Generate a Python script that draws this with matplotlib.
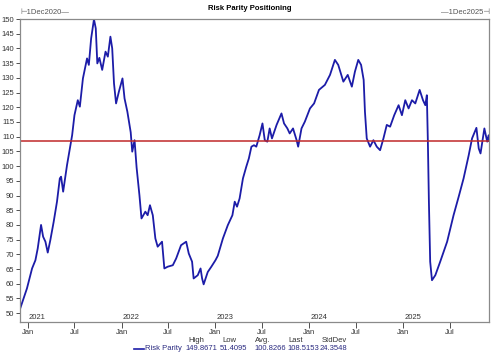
import pandas as pd
import matplotlib
matplotlib.use('Agg')
import matplotlib.pyplot as plt
import matplotlib.dates as mdates
import matplotlib.transforms as mtransforms

# data
dates = ['2020-12-01', '2020-12-28', '2021-01-17', '2021-01-30', '2021-02-08', '2021-02-21',
         '2021-03-01', '2021-03-10', '2021-03-19', '2021-03-29', '2021-04-11', '2021-04-24',
         '2021-05-05', '2021-05-10', '2021-05-18', '2021-06-02', '2021-06-13', '2021-06-22',
         '2021-07-01', '2021-07-14', '2021-07-22', '2021-08-03', '2021-08-19', '2021-08-26',
         '2021-09-04', '2021-09-15', '2021-09-22', '2021-09-28', '2021-10-06', '2021-10-17',
         '2021-10-30', '2021-11-08', '2021-11-18', '2021-11-25', '2021-12-02', '2021-12-10',
         '2021-12-21', '2022-01-04', '2022-01-12', '2022-01-23', '2022-02-05', '2022-02-11',
         '2022-02-20', '2022-02-28', '2022-03-11', '2022-03-19', '2022-04-03', '2022-04-12',
         '2022-04-21', '2022-05-02', '2022-05-12', '2022-05-21', '2022-06-07', '2022-06-16',
         '2022-06-29', '2022-07-19', '2022-08-01', '2022-08-20', '2022-09-09', '2022-09-19',
         '2022-10-02', '2022-10-08', '2022-10-24', '2022-11-04', '2022-11-10', '2022-11-16',
         '2022-12-02', '2022-12-16', '2023-01-01', '2023-01-10', '2023-01-30', '2023-02-18',
         '2023-03-08', '2023-03-17', '2023-03-26', '2023-04-05', '2023-04-18', '2023-05-01',
         '2023-05-11', '2023-05-21', '2023-05-31', '2023-06-09', '2023-06-22', '2023-07-03',
         '2023-07-12', '2023-07-22', '2023-07-31', '2023-08-09', '2023-08-27', '2023-09-15',
         '2023-09-25', '2023-10-08', '2023-10-17', '2023-10-30', '2023-11-13', '2023-11-19',
         '2023-12-02', '2023-12-15', '2024-01-04', '2024-01-20', '2024-02-08', '2024-03-02',
         '2024-03-22', '2024-04-10', '2024-04-23', '2024-05-13', '2024-05-30', '2024-06-15',
         '2024-06-27', '2024-07-10', '2024-07-21', '2024-07-31', '2024-08-05', '2024-08-12',
         '2024-08-25', '2024-09-07', '2024-09-20', '2024-10-03', '2024-10-16', '2024-10-29',
         '2024-11-11', '2024-11-27', '2024-12-14', '2024-12-27', '2025-01-09', '2025-01-22',
         '2025-02-04', '2025-02-17', '2025-03-06', '2025-03-19', '2025-03-28', '2025-04-03',
         '2025-04-07', '2025-04-11', '2025-04-16', '2025-04-23', '2025-05-06', '2025-05-25',
         '2025-06-21', '2025-07-16', '2025-08-05', '2025-08-24', '2025-09-13', '2025-09-26',
         '2025-10-13', '2025-10-22', '2025-10-29', '2025-11-13', '2025-11-24', '2025-11-30',
         '2025-12-01']
values = [51.4, 58.4, 65.2, 68.0, 72.0, 80.0,
          76.0, 74.3, 70.6, 74.8, 81.0, 87.9,
          95.8, 96.4, 91.3, 100.3, 106.0, 110.5,
          117.3, 122.4, 120.2, 129.8, 136.6, 134.4,
          143.4, 149.9, 146.8, 134.9, 136.8, 132.7,
          138.9, 137.2, 144.0, 140.0, 128.1, 121.3,
          125.3, 129.8, 123.0, 118.5, 111.5, 104.9,
          108.8, 99.5, 90.1, 82.2, 84.5, 83.3,
          86.7, 83.3, 75.4, 72.6, 74.3, 65.2,
          65.8, 66.3, 68.6, 73.1, 74.3, 70.3,
          67.5, 61.8, 62.9, 65.2, 61.8, 59.8,
          64.0, 65.8, 68.0, 69.5, 75.4, 79.9,
          83.3, 87.9, 86.2, 89.0, 95.8, 99.8,
          102.6, 106.6, 107.1, 106.6, 110.5, 114.5,
          108.8, 108.3, 112.8, 109.4, 114.0, 117.9,
          114.5, 112.8, 111.1, 112.8, 108.8, 106.6,
          112.8, 115.1, 119.6, 121.3, 125.9, 127.6,
          131.0, 136.1, 134.4, 128.7, 131.0, 127.0,
          132.1, 136.1, 134.4, 129.3, 118.5, 109.4,
          106.6, 108.8, 106.6, 105.4, 109.4, 114.0,
          113.4, 117.3, 120.7, 117.3, 122.4, 119.6,
          122.4, 121.3, 125.9, 122.4, 120.7, 124.1,
          108.3, 87.9, 67.5, 61.2, 62.9, 67.5,
          74.3, 83.3, 89.6, 95.8, 103.7, 109.4,
          113.0, 106.0, 104.3, 112.8, 108.3, 110.5,
          108.5]

stat_names = ['High', 'Low', 'Avg.', 'Last', 'StdDev']
stat_values = ['149.8671', '51.4095', '100.8266', '108.5153', '24.3548']
last_value = 108.5153
series_name = 'Risk Parity'

plt.rcParams['font.family'] = ['Liberation Sans', 'DejaVu Sans']

W, H = 500, 363
fig = plt.figure(figsize=(W / 100, H / 100), dpi=100)
ax = fig.add_axes([20 / W, 1 - 322 / H, (489 - 20) / W, (322 - 19) / H])

d = pd.to_datetime(dates)
line_col = '#1c1ca8'
ax.plot(d, values, color=line_col, lw=1.3)
ax.axhline(last_value, color='#c0282a', lw=1.1)

ax.set_xlim(pd.Timestamp('2020-12-01'), pd.Timestamp('2025-12-01'))
ax.set_ylim(47, 150)
ax.set_yticks(range(50, 151, 5))
ax.tick_params(axis='y', labelsize=5.5, length=3, width=0.6, pad=1, colors='#333333')

ax.xaxis.set_major_locator(mdates.MonthLocator(bymonth=[1, 7]))
ax.xaxis.set_major_formatter(mdates.DateFormatter('%b'))
ax.tick_params(axis='x', labelsize=5.5, length=4, width=0.6, pad=1, colors='#333333')

for s in ax.spines.values():
    s.set_color('#8a8a8a')
    s.set_linewidth(0.9)

# year labels above the axis
trans = mtransforms.blended_transform_factory(ax.transData, ax.transAxes)
for yr in range(2021, 2026):
    ax.text(pd.Timestamp(f'{yr}-01-05'), 0.004, str(yr), transform=trans,
            fontsize=5.5, color='#333333', ha='left', va='bottom')

fig.text(250 / W, 1 - 8 / H, 'Risk Parity Positioning', fontsize=5.5, fontweight='bold',
         ha='center', va='center')
fig.text(20 / W, 1 - 13 / H, '⊢1Dec2020—', fontsize=5.5, color='#555555',
         ha='left', va='center')
fig.text(490 / W, 1 - 13 / H, '—1Dec2025⊣', fontsize=5.5, color='#555555',
         ha='right', va='center')

# stats legend
hx = [188, 222, 255, 288, 322]
vx = [185, 220, 254, 287, 320]
for name, val, x1, x2 in zip(stat_names, stat_values, hx, vx):
    fig.text(x1 / W, 1 - 340 / H, name, fontsize=5.5, color='#333333', ha='left', va='center')
    fig.text(x2 / W, 1 - 349 / H, val, fontsize=5.5, color='#2a2a80', ha='left', va='center')
fig.add_artist(plt.Line2D([134 / W, 144 / W], [1 - 349 / H, 1 - 349 / H], color=line_col, lw=1.2))
fig.text(145 / W, 1 - 349 / H, series_name, fontsize=5.5, color='#2a2a80', ha='left', va='center')

fig.savefig('out.png', dpi=100)
